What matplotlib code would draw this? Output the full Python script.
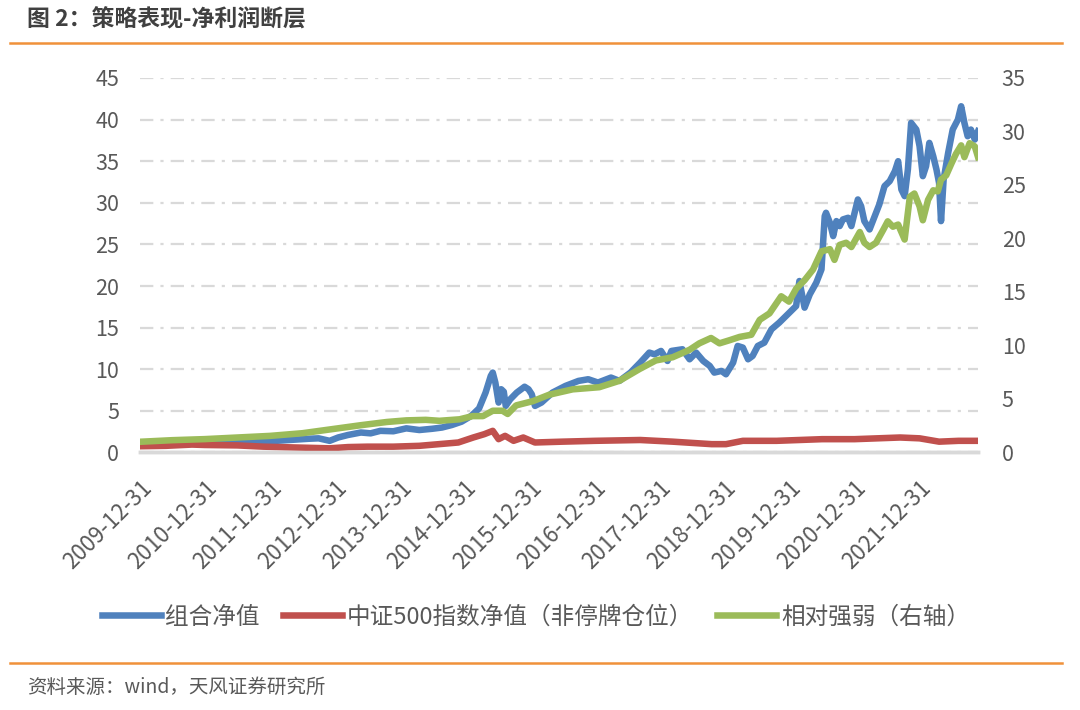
import matplotlib
matplotlib.use('Agg')
import matplotlib.pyplot as plt
import numpy as np

plt.rcParams['font.family'] = ['Noto Sans CJK SC', 'DejaVu Sans']

# x in decimal years (2010.0 = 2009-12-31)
blue_t = [2010.00, 2010.25, 2010.50, 2010.75, 2011.00, 2011.30, 2011.50, 2011.70, 2011.90, 2012.20,
          2012.40, 2012.60, 2012.75, 2012.92, 2013.05, 2013.20, 2013.40, 2013.55, 2013.70, 2013.90,
          2014.10, 2014.30, 2014.50, 2014.65, 2014.80, 2014.95, 2015.10, 2015.22, 2015.32, 2015.40,
          2015.43, 2015.47, 2015.52, 2015.56, 2015.60, 2015.63, 2015.70, 2015.80, 2015.92, 2015.98,
          2016.03, 2016.08, 2016.18, 2016.35, 2016.55, 2016.75, 2016.90, 2017.05, 2017.25, 2017.38,
          2017.55, 2017.70, 2017.84, 2017.92, 2018.02, 2018.12, 2018.18, 2018.35,
          2018.46, 2018.56, 2018.67, 2018.77, 2018.84, 2018.95, 2019.02, 2019.13, 2019.20, 2019.28,
          2019.36, 2019.43, 2019.51, 2019.61, 2019.72, 2019.84, 2019.97, 2020.10, 2020.15, 2020.23,
          2020.31, 2020.41, 2020.49, 2020.54, 2020.56, 2020.62, 2020.67, 2020.72, 2020.77, 2020.82,
          2020.90, 2020.95, 2021.05, 2021.10, 2021.15, 2021.23, 2021.31, 2021.38, 2021.46, 2021.54,
          2021.62, 2021.67, 2021.72, 2021.77, 2021.82, 2021.87, 2021.95, 2022.00, 2022.05, 2022.10,
          2022.15, 2022.21, 2022.26, 2022.30, 2022.33, 2022.37, 2022.44, 2022.51, 2022.59, 2022.64,
          2022.69, 2022.74, 2022.79, 2022.85, 2022.90]
blue_v = [1.00, 1.05, 0.95, 1.10, 1.15, 1.20, 1.15, 1.20, 1.30, 1.45,
          1.55, 1.65, 1.70, 1.40, 1.80, 2.10, 2.40, 2.30, 2.60, 2.55,
          2.90, 2.70, 2.85, 3.00, 3.30, 3.70, 4.40, 5.30, 7.20, 9.20,
          9.60, 8.40, 6.00, 7.60, 7.30, 5.60, 6.40, 7.20, 7.90, 7.60,
          7.00, 5.60, 6.00, 7.20, 8.00, 8.60, 8.80, 8.40, 9.00, 8.60,
          9.60, 10.80, 12.00, 11.80, 12.20, 11.00, 12.20, 12.40,
          11.2, 12.0, 11.0, 10.4, 9.6, 9.8, 9.4, 10.8, 12.8, 12.6,
          11.2, 11.6, 12.8, 13.2, 14.8, 15.6, 16.6, 17.6, 20.6, 17.4,
          19.0, 20.4, 22.0, 28.4, 28.8, 27.6, 26.0, 27.8, 27.2, 28.0,
          28.2, 27.2, 30.4, 29.6, 27.8, 26.8, 28.4, 29.8, 32.0, 32.6,
          33.8, 35.0, 31.6, 30.8, 34.0, 39.6, 38.8, 36.8, 33.2, 34.4,
          37.2, 35.6, 34.0, 32.4, 27.8, 32.8, 36.0, 38.8, 40.0, 41.6,
          39.6, 38.0, 38.8, 37.6, 38.6]

red_t = [2010.00, 2010.40, 2010.80, 2011.00, 2011.50, 2011.90, 2012.40, 2012.92, 2013.20, 2013.50,
         2013.90, 2014.30, 2014.60, 2014.90, 2015.13, 2015.30, 2015.43, 2015.52, 2015.62, 2015.75,
         2015.90, 2016.08, 2016.50, 2017.00, 2017.70, 2018.20, 2018.80, 2019.02, 2019.28, 2019.80,
         2020.50, 2021.00, 2021.70, 2022.00, 2022.30, 2022.60, 2022.90]
red_v = [0.75, 0.80, 0.95, 0.90, 0.85, 0.70, 0.60, 0.50, 0.65, 0.70,
         0.70, 0.80, 1.00, 1.20, 1.80, 2.20, 2.60, 1.60, 2.00, 1.40,
         1.80, 1.20, 1.30, 1.40, 1.50, 1.30, 1.00, 1.00, 1.40, 1.40,
         1.60, 1.60, 1.80, 1.70, 1.30, 1.40, 1.40]

# right axis
green_t = [2010.00, 2010.50, 2011.00, 2011.50, 2012.00, 2012.50, 2012.92, 2013.40, 2013.80, 2014.10,
           2014.40, 2014.61, 2014.92, 2015.12, 2015.28, 2015.43, 2015.58, 2015.66, 2015.79, 2016.05,
           2016.30, 2016.66, 2017.07, 2017.38, 2017.69, 2017.94, 2018.20, 2018.35,
           2018.46, 2018.61, 2018.79, 2018.92, 2019.08, 2019.23, 2019.41, 2019.54, 2019.69, 2019.87,
           2019.99, 2020.10, 2020.23, 2020.36, 2020.49, 2020.62, 2020.69, 2020.77, 2020.87, 2020.95,
           2021.08, 2021.15, 2021.23, 2021.33, 2021.44, 2021.51, 2021.59, 2021.67, 2021.77, 2021.85,
           2021.92, 2022.00, 2022.05, 2022.13, 2022.21, 2022.28, 2022.33, 2022.41, 2022.49, 2022.56,
           2022.64, 2022.69, 2022.77, 2022.85, 2022.90]
green_v = [1.00, 1.15, 1.25, 1.40, 1.55, 1.80, 2.15, 2.55, 2.85, 3.00,
           3.05, 2.96, 3.10, 3.40, 3.40, 3.90, 3.90, 3.60, 4.40, 4.80,
           5.40, 5.90, 6.10, 6.70, 7.80, 8.60, 8.90, 9.30,
           9.6, 10.2, 10.7, 10.2, 10.5, 10.8, 11.0, 12.4, 13.0, 14.6,
           14.1, 15.3, 16.1, 17.1, 18.8, 19.0, 18.0, 19.4, 19.6, 19.2,
           20.6, 19.6, 19.2, 19.6, 20.8, 21.6, 21.1, 21.3, 19.9, 23.9,
           24.2, 23.0, 21.7, 23.6, 24.5, 24.4, 25.5, 25.9, 27.0, 27.9,
           28.7, 27.6, 28.9, 28.6, 27.6]

x_labels = ['2009-12-31', '2010-12-31', '2011-12-31', '2012-12-31', '2013-12-31', '2014-12-31',
            '2015-12-31', '2016-12-31', '2017-12-31', '2018-12-31', '2019-12-31', '2020-12-31',
            '2021-12-31']
names = ['组合净值', '中证500指数净值（非停牌仓位）', '相对强弱（右轴）']

c_blue = '#4F81BD'
c_red = '#C0504D'
c_green = '#9BBB59'
c_text = '#595959'
c_grid = '#D9D9D9'
c_orange = '#F0913A'

fig = plt.figure(figsize=(10.8, 7.1), dpi=100)
ax = fig.add_axes([0.1296, 0.3627, 0.776, 0.5275])
ax2 = ax.twinx()

lw = 4.7
l1, = ax.plot(blue_t, blue_v, color=c_blue, lw=lw, solid_joinstyle='round', zorder=3)
l2, = ax.plot(red_t, red_v, color=c_red, lw=lw, solid_joinstyle='round', zorder=4)
l3, = ax2.plot(green_t, green_v, color=c_green, lw=lw, solid_joinstyle='round', zorder=3)

ax.set_xlim(blue_t[0], blue_t[-1])
ax.set_ylim(0, 45)
ax2.set_ylim(0, 35)
ax.set_yticks(np.arange(0, 46, 5))
ax2.set_yticks(np.arange(0, 36, 5))

tick_pos = [int(s[:4]) + 1 for s in x_labels]
ax.set_xticks(tick_pos)
ax.set_xticklabels(x_labels, rotation=45, ha='right', va='top', rotation_mode='anchor')

# dash-dot grid like excel
ax.yaxis.grid(True, color=c_grid, lw=1.6, linestyle=(0, (6, 3.2, 1.4, 3.2)))
ax.set_axisbelow(True)

for a in (ax, ax2):
    for s in ('top', 'left', 'right'):
        a.spines[s].set_visible(False)
    a.spines['bottom'].set_color(c_grid)
    a.spines['bottom'].set_linewidth(2.5)
    a.tick_params(length=0, labelsize=15.5, labelcolor=c_text)
ax.tick_params(axis='y', pad=15)
ax2.tick_params(axis='y', pad=17)
ax.tick_params(axis='x', pad=17, labelsize=16)

fig.legend([l1, l2, l3], names, loc='center', bbox_to_anchor=(0.496, 0.131), ncol=3,
           frameon=False, fontsize=17, handlelength=2.5, handletextpad=0.2, columnspacing=1.0,
           labelcolor=c_text)

# title, rules and source
fig.text(0.025, 0.972, '图 2：策略表现-净利润断层', fontsize=16.5, fontweight='bold',
         color='#404040', va='center', ha='left')
fig.add_artist(plt.Line2D([0.009, 0.983], [0.940, 0.940], color=c_orange, lw=1.8))
fig.add_artist(plt.Line2D([0.009, 0.983], [0.0666, 0.0666], color=c_orange, lw=1.8))
fig.text(0.025, 0.0324, '资料来源：wind，天风证券研究所', fontsize=14, color=c_text,
         va='center', ha='left')

fig.savefig('out.png', dpi=100, facecolor='white')
